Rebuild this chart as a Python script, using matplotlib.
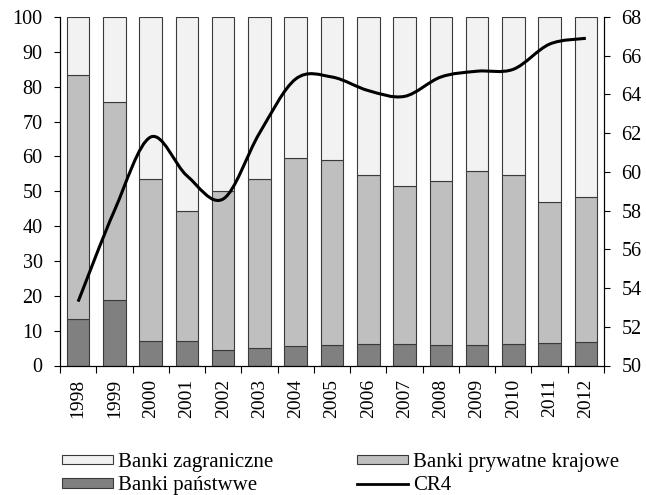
import numpy as np
import matplotlib
matplotlib.use("Agg")
import matplotlib.pyplot as plt
from matplotlib.path import Path
from matplotlib.patches import PathPatch
from matplotlib.lines import Line2D

plt.rcParams['font.family'] = ['Liberation Serif', 'DejaVu Serif']

years = ["1998", "1999", "2000", "2001", "2002", "2003", "2004", "2005",
         "2006", "2007", "2008", "2009", "2010", "2011", "2012"]
# share of assets (%), stacked to 100
state = [13.3, 18.8, 7.0, 7.0, 4.4, 4.9, 5.5, 5.9, 6.2, 6.2, 5.9, 5.9, 6.2, 6.5, 6.7]
domestic_top = [83.4, 75.5, 53.5, 44.2, 50.1, 53.5, 59.5, 58.9, 54.6, 51.5, 52.9, 55.8, 54.6, 46.8, 48.4]
# CR4 concentration (right axis)
cr4 = [53.3, 58.0, 61.8, 59.8, 58.6, 62.0, 64.8, 64.9, 64.2, 63.9, 64.9, 65.2, 65.3, 66.6, 66.9]

state = np.array(state)
domestic = np.array(domestic_top) - state
foreign = 100 - np.array(domestic_top)

fig = plt.figure(figsize=(6.46, 4.95), dpi=100)
ax = fig.add_axes([60/646, 1-365.5/495, 544/646, 348.5/495])
ax2 = ax.twinx()

x = np.arange(len(years))
w = 0.62
ec = '#3a3a3a'
b1 = ax.bar(x, state, w, color='#808080', edgecolor=ec, linewidth=0.8)
b2 = ax.bar(x, domestic, w, bottom=state, color='#bfbfbf', edgecolor=ec, linewidth=0.8)
b3 = ax.bar(x, foreign, w, bottom=np.array(domestic_top), color='#f2f2f2', edgecolor=ec, linewidth=0.8)

# smoothed CR4 line, Excel-like cubic bezier
pts = np.column_stack([x, cr4]).astype(float)
ext = np.vstack([pts[0], pts, pts[-1]])
verts = [tuple(pts[0])]
codes = [Path.MOVETO]
for i in range(len(pts) - 1):
    p0, p1, p2, p3 = ext[i], ext[i+1], ext[i+2], ext[i+3]
    c1 = p1 + (p2 - p0) / 6
    c2 = p2 - (p3 - p1) / 6
    verts += [tuple(c1), tuple(c2), tuple(p2)]
    codes += [Path.CURVE4] * 3
ax2.add_patch(PathPatch(Path(verts, codes), facecolor='none', edgecolor='black', lw=2.2))

ax.set_xlim(-0.5, len(years) - 0.5)
ax.set_ylim(0, 100)
ax2.set_ylim(50, 68)
ax.set_yticks(range(0, 101, 10))
ax2.set_yticks(range(50, 69, 2))

ax.set_xticks(x)
ax.set_xticklabels(years, rotation=90)
ax.set_xticks(np.arange(-0.5, len(years), 1), minor=True)
ax.tick_params(axis='x', which='major', length=0, pad=9.5, labelsize=14)
ax.tick_params(axis='x', which='minor', length=5, width=0.8)
ax.tick_params(axis='y', length=4.5, width=0.8, labelsize=14.5, pad=8)
ax2.tick_params(axis='y', length=4.5, width=0.8, labelsize=14.5, pad=8)

for a in (ax, ax2):
    a.spines['top'].set_visible(False)
    for s in a.spines.values():
        s.set_linewidth(0.8)

handles = [b3, b1, b2, Line2D([], [], color='black', lw=2)]
labels = ["Banki zagraniczne", "Banki państwwe", "Banki prywatne krajowe", "CR4"]
fig.legend(handles, labels, ncol=2, loc='upper left', bbox_to_anchor=(0.08, 0.106),
           frameon=False, fontsize=15, handlelength=2.45, handleheight=0.35,
           handletextpad=0.24, columnspacing=4.0, labelspacing=0.2, borderpad=0)

fig.savefig("out.png", dpi=100)
